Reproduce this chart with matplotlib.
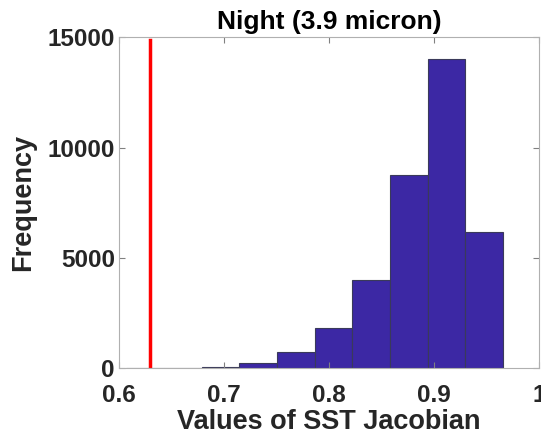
import numpy as np
import matplotlib
matplotlib.use("Agg")
import matplotlib.pyplot as plt

plt.rcParams['font.family'] = ['Liberation Sans', 'DejaVu Sans']
plt.rcParams['font.weight'] = 'bold'

# histogram bins (SST Jacobian values) and counts
bin_edges = [0.607, 0.6429, 0.6788, 0.7147, 0.7506, 0.7865, 0.8224, 0.8583, 0.8942, 0.9301, 0.966]
counts = [8, 10, 45, 227, 725, 1840, 4000, 8760, 14030, 6190]
threshold = 0.6296

xticks = [0.6, 0.7, 0.8, 0.9, 1.0]
xtick_labels = ['0.6', '0.7', '0.8', '0.9', '1']
yticks = [0, 5000, 10000, 15000]

fig = plt.figure(figsize=(5.41, 4.38), dpi=100)
ax = fig.add_axes([119 / 541, 1 - 368.3 / 438, (538.7 - 119) / 541, (368.3 - 37.3) / 438])

lefts = np.array(bin_edges[:-1])
widths = np.diff(bin_edges)
ax.bar(lefts, counts, width=widths, align='edge', color='#3c28a4',
       edgecolor='#3a3a5a', linewidth=0.8)
ax.plot([threshold, threshold], [0, 14900], color='#ff0000', linewidth=2.5)

ax.set_xlim(0.6, 1.0)
ax.set_ylim(0, 15000)
ax.set_xticks(xticks)
ax.set_xticklabels(xtick_labels)
ax.set_yticks(yticks)
ax.tick_params(direction='in', length=4, width=0.8, color='#808080',
               top=True, right=True, labelsize=17.5)
ax.tick_params(axis='x', pad=11)
ax.tick_params(axis='y', pad=3)
for lbl in ax.get_xticklabels() + ax.get_yticklabels():
    lbl.set_fontweight('bold')
    lbl.set_color('#262626')
for s in ax.spines.values():
    s.set_color('#b0b0b0')
    s.set_linewidth(0.8)

ax.set_xlabel('Values of SST Jacobian', fontsize=19.5, fontweight='bold', color='#262626', labelpad=2)
ax.set_ylabel('Frequency', fontsize=19.5, fontweight='bold', color='#262626', labelpad=8)
ax.set_title('Night (3.9 micron)', fontsize=19, fontweight='bold', color='black', pad=6)

fig.savefig('out.png', dpi=100)
